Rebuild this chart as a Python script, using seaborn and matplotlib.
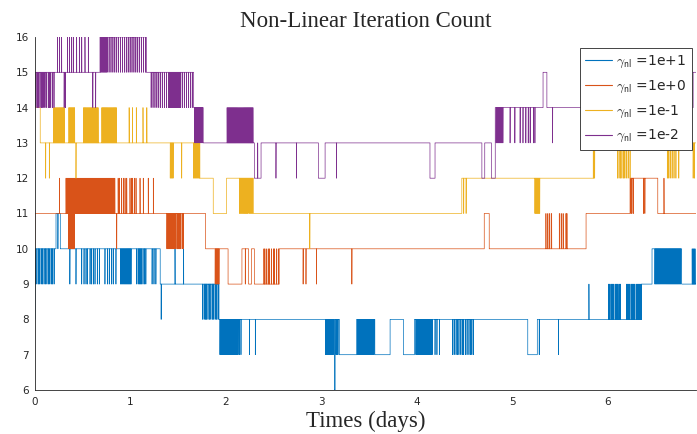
import numpy as np
import pandas as pd
import matplotlib
matplotlib.use("Agg")
import matplotlib.pyplot as plt
from matplotlib.lines import Line2D
import seaborn as sns

# ---------------- data ----------------
dt = 0.001          # length of one time step (days); one spike = one step
T_END = 6.92

labels = [r"$\gamma_{\mathsf{nl}}$ =1e+1", r"$\gamma_{\mathsf{nl}}$ =1e+0",
          r"$\gamma_{\mathsf{nl}}$ =1e-1", r"$\gamma_{\mathsf{nl}}$ =1e-2"]
colors = ["#0072BD", "#D95319", "#EDB120", "#7E2F8E"]

# gamma = 1e+1 : base level segments (start day, level) + one-step spikes up / down
blue_seg_t = [0.0, 0.005, 0.225, 0.27, 1.315, 1.93, 3.139, 3.145, 3.19, 3.37, 3.56, 3.72,
              3.86, 3.975, 5.16, 5.26, 6.35, 6.46, 6.77]
blue_seg_v = [8, 10, 11, 10, 9, 8, 6, 8, 7, 8, 7, 8, 7, 8, 7, 8, 9, 10, 9]
blue_up = [1.47, 1.56, 5.80, 6.005, 6.015, 6.03, 6.04, 6.05, 6.06, 6.075, 6.085, 6.095,
           6.105, 6.12, 6.13, 6.195, 6.205, 6.215, 6.225, 6.24, 6.25, 6.26, 6.27, 6.28,
           6.295, 6.305, 6.315, 6.325, 6.335, 6.345, 6.88, 6.89, 6.90, 6.91]
blue_down = [0.01, 0.025, 0.04, 0.055, 0.07, 0.085, 0.10, 0.115, 0.13, 0.145, 0.16, 0.175,
             0.19, 0.205, 0.245, 0.37, 0.434, 0.494, 0.518, 0.539, 0.553, 0.581, 0.598,
             0.615, 0.633, 0.657, 0.678, 0.737, 0.762, 0.782, 0.808, 0.824, 0.852, 0.90,
             0.91, 0.92, 0.93, 0.94, 0.95, 0.96, 0.97, 0.98, 0.99, 1.00, 1.01, 1.07, 1.085,
             1.10, 1.11, 1.12, 1.135, 1.15, 1.165, 1.23, 1.25, 1.27, 1.325, 1.76, 1.775,
             1.79, 1.80, 1.815, 1.83, 1.845, 1.86, 1.875, 1.89, 1.905, 1.92, 1.94, 1.95,
             1.96, 1.97, 1.98, 1.99, 2.00, 2.01, 2.02, 2.03, 2.04, 2.05, 2.06, 2.07, 2.08,
             2.09, 2.10, 2.11, 2.12, 2.13, 2.145, 2.16, 2.25, 2.31, 3.045, 3.055, 3.065,
             3.075, 3.085, 3.095, 3.105, 3.115, 3.125, 3.155, 3.165, 3.175, 3.38, 3.39,
             3.40, 3.41, 3.42, 3.43, 3.44, 3.45, 3.46, 3.47, 3.48, 3.49, 3.50, 3.51, 3.52,
             3.53, 3.54, 3.55, 3.99, 4.00, 4.01, 4.02, 4.03, 4.04, 4.05, 4.06, 4.07, 4.08,
             4.09, 4.10, 4.11, 4.12, 4.13, 4.14, 4.15, 4.16, 4.19, 4.21, 4.235, 4.375, 4.39,
             4.41, 4.425, 4.44, 4.46, 4.475, 4.49, 4.51, 4.525, 4.545, 4.56, 4.575, 4.59,
             5.28, 5.48, 6.49, 6.50, 6.51, 6.52, 6.53, 6.54, 6.55, 6.56, 6.57, 6.58, 6.59,
             6.60, 6.61, 6.62, 6.63, 6.64, 6.65, 6.66, 6.67, 6.68, 6.69, 6.70, 6.71, 6.72,
             6.73, 6.74, 6.75, 6.76]

# gamma = 1e+0
orange_seg_t = [0.0, 0.004, 1.79, 2.025, 2.17, 2.24, 2.27, 2.30, 2.56, 4.705, 4.757, 5.77,
                6.23, 6.52]
orange_seg_v = [10, 11, 10, 9, 10, 9, 10, 9, 10, 11, 10, 11, 12, 11]
orange_up = [0.26, 0.33, 0.34, 0.35, 0.36, 0.37, 0.38, 0.39, 0.40, 0.41, 0.42, 0.43, 0.44,
             0.45, 0.46, 0.47, 0.48, 0.49, 0.50, 0.51, 0.52, 0.53, 0.54, 0.55, 0.56, 0.57,
             0.58, 0.59, 0.60, 0.61, 0.62, 0.63, 0.64, 0.65, 0.66, 0.67, 0.68, 0.69, 0.70,
             0.71, 0.72, 0.73, 0.74, 0.75, 0.76, 0.77, 0.78, 0.79, 0.80, 0.81, 0.82, 0.83,
             0.84, 0.875, 0.89, 0.912, 0.93, 0.947, 0.965, 0.999, 1.015, 1.027, 1.045,
             1.062, 1.104, 1.138, 1.19, 1.243, 2.40, 2.41, 2.43, 2.45, 2.46, 2.48, 2.50,
             2.51, 2.53, 2.55, 5.35, 5.37, 5.39, 5.41, 5.49, 5.51, 5.53, 5.56, 5.57, 6.585]
orange_down = [0.355, 0.365, 0.375, 0.385, 0.395, 0.405, 0.415, 0.86, 1.385, 1.395, 1.405,
               1.415, 1.425, 1.435, 1.445, 1.455, 1.465, 1.475, 1.49, 1.50, 1.51, 1.52,
               1.53, 1.545, 1.555, 1.89, 1.90, 1.91, 1.92, 1.93, 2.205, 2.81, 2.84, 2.95,
               3.32, 6.24, 6.25, 6.265, 6.37, 6.385]

# gamma = 1e-1
yellow_seg_t = [0.0, 0.06, 1.73, 1.87, 2.01, 2.29, 4.47, 5.845]
yellow_seg_v = [14, 13, 12, 11, 12, 11, 12, 13]
yellow_up = [0.20, 0.21, 0.22, 0.23, 0.24, 0.25, 0.26, 0.27, 0.28, 0.29, 0.30, 0.31, 0.36,
             0.37, 0.38, 0.39, 0.40, 0.41, 0.42, 0.515, 0.525, 0.535, 0.545, 0.555, 0.565,
             0.575, 0.585, 0.595, 0.605, 0.615, 0.625, 0.635, 0.645, 0.655, 0.665, 0.705,
             0.715, 0.725, 0.735, 0.745, 0.755, 0.765, 0.775, 0.785, 0.795, 0.805, 0.815,
             0.825, 0.835, 0.845, 0.855, 0.99, 1.025, 1.065, 1.135, 1.175]
yellow_down = [0.117, 0.155, 0.434, 1.42, 1.43, 1.44, 1.45, 1.54, 1.665, 1.675, 1.685,
               1.695, 1.705, 1.715, 1.725, 2.145, 2.155, 2.165, 2.175, 2.185, 2.195, 2.205,
               2.215, 2.225, 2.235, 2.25, 2.26, 2.27, 2.28, 2.88, 4.49, 4.515, 5.235, 5.245,
               5.255, 5.265, 5.275, 5.285, 5.85, 5.86, 6.10, 6.115, 6.13, 6.145, 6.16,
               6.175, 6.19, 6.21, 6.23, 6.62, 6.635, 6.65, 6.67, 6.69, 6.71, 6.74, 6.89,
               6.905]

# gamma = 1e-2
purple_seg_t = [0.0, 0.005, 0.685, 1.17, 1.665, 1.765, 2.30, 2.37, 2.97, 3.04, 4.137, 4.19,
                4.68, 4.71, 4.78, 4.82, 5.32, 5.36, 6.89]
purple_seg_v = [14, 15, 16, 15, 14, 13, 12, 13, 12, 13, 12, 13, 12, 13, 12, 14, 15, 14, 15]
purple_up = [0.239, 0.26, 0.284, 0.345, 0.365, 0.389, 0.406, 0.441, 0.469, 0.494, 0.528,
             0.563, 2.015, 2.025, 2.035, 2.045, 2.055, 2.065, 2.075, 2.085, 2.095, 2.105,
             2.115, 2.125, 2.135, 2.145, 2.155, 2.165, 2.175, 2.185, 2.195, 2.205, 2.215,
             2.225, 2.235, 2.245, 2.255, 2.265, 2.275, 2.285, 2.335]
purple_down = [0.016, 0.03, 0.044, 0.058, 0.072, 0.086, 0.098, 0.11, 0.128, 0.145, 0.158,
               0.17, 0.19, 0.204, 0.31, 0.325, 0.61, 0.64, 0.69, 0.70, 0.71, 0.72, 0.73,
               0.74, 0.75, 0.76, 0.78, 0.80, 0.82, 0.84, 0.86, 0.88, 0.90, 0.92, 0.94, 0.96,
               0.98, 1.00, 1.02, 1.04, 1.06, 1.08, 1.10, 1.12, 1.14, 1.16, 1.22, 1.24, 1.26,
               1.28, 1.30, 1.32, 1.34, 1.36, 1.38, 1.40, 1.41, 1.42, 1.43, 1.44, 1.45, 1.46,
               1.47, 1.48, 1.49, 1.50, 1.51, 1.52, 1.53, 1.55, 1.57, 1.59, 1.61, 1.63, 1.65,
               1.675, 1.685, 1.695, 1.705, 1.715, 1.725, 1.735, 1.745, 1.755, 2.526, 2.74,
               3.16, 4.83, 4.84, 4.85, 4.86, 4.87, 4.88, 4.89, 4.90, 4.975, 5.025, 5.08,
               5.11, 5.14, 5.165, 5.185, 5.22, 5.235, 5.42]

series = [
    (blue_seg_t, blue_seg_v, blue_up, blue_down),
    (orange_seg_t, orange_seg_v, orange_up, orange_down),
    (yellow_seg_t, yellow_seg_v, yellow_up, yellow_down),
    (purple_seg_t, purple_seg_v, purple_up, purple_down),
]

# ---------------- build the per-step table ----------------
steps = np.arange(0.0, T_END + dt / 2, dt)
frames = []
for lab, (st, sv, up, dn) in zip(labels, series):
    idx = np.searchsorted(np.asarray(st), steps, side="right") - 1
    base = np.asarray(sv)[idx]
    vals = base.astype(float).copy()
    for s in up:
        i = int(round(s / dt))
        vals[i] = base[i] + 1
    for s in dn:
        i = int(round(s / dt))
        vals[i] = base[i] - 1
    frames.append(pd.DataFrame({"day": steps, "iters": vals, "run": lab}))
df = pd.concat(frames, ignore_index=True)

# ---------------- plot ----------------
sns.set_style("white")
plt.rcParams["mathtext.fontset"] = "cm"
plt.rcParams["font.family"] = ["DejaVu Sans"]

fig = plt.figure(figsize=(6.97, 4.34), dpi=100)
ax = fig.add_axes([34.5 / 697, 1 - 390 / 434, (696 - 34.5) / 697, (390 - 37) / 434])

sns.lineplot(data=df, x="day", y="iters", hue="run", hue_order=labels,
             palette=colors, estimator=None, drawstyle="steps-post",
             linewidth=0.5, legend=False, ax=ax)

ax.set_xlim(0, T_END)
ax.set_ylim(6, 16)
ax.set_xticks(range(0, 7))
ax.set_yticks(range(6, 17))
for s in ["top", "right"]:
    ax.spines[s].set_visible(False)
for s in ["left", "bottom"]:
    ax.spines[s].set_color("#262626")
    ax.spines[s].set_linewidth(0.6)
ax.tick_params(direction="in", length=4, width=0.6, colors="#262626", labelsize=7.5)
ax.tick_params(axis="x", pad=5)
ax.tick_params(axis="y", pad=4)

ax.set_title("Non-Linear Iteration Count", family="Liberation Serif",
             fontsize=16.5, color="#262626", pad=7)
ax.set_xlabel("Times (days)", family="Liberation Serif", fontsize=16.5,
              color="#262626", labelpad=3)
ax.set_ylabel("")

handles = [Line2D([], [], color=c, lw=0.8) for c in colors]
leg = ax.legend(handles, labels, loc="upper right", bbox_to_anchor=(0.994, 0.969),
                borderaxespad=0, fontsize=10, frameon=True, fancybox=False,
                framealpha=1, edgecolor="#262626", handlelength=1.9,
                handletextpad=0.3, labelspacing=0.62, borderpad=0.42)
leg.get_frame().set_linewidth(0.6)
for txt in leg.get_texts():
    txt.set_color("#262626")

fig.savefig("out.png", dpi=100)
